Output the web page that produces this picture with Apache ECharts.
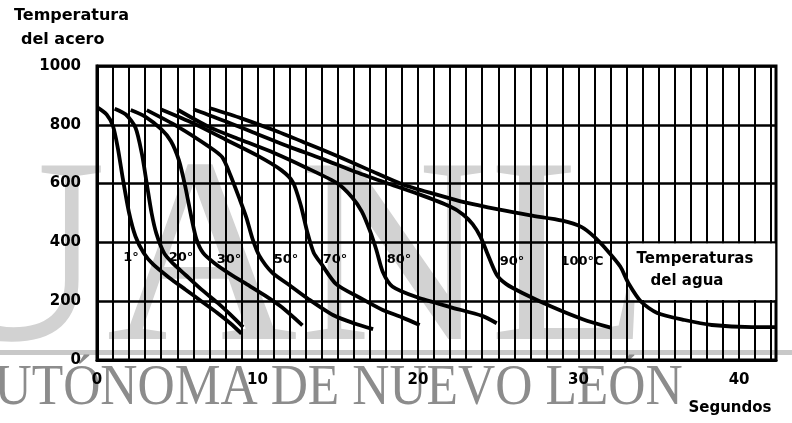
<!DOCTYPE html>
<html><head><meta charset="utf-8">
<script src="https://cdn.jsdelivr.net/npm/echarts@6/dist/echarts.min.js"></script>
<style>html,body{margin:0;padding:0;background:#fff}#c{width:792px;height:423px}</style>
</head><body><div id="c"></div>
<script>
// Water temperature labels (series names)
const waterTemps = ['1°', '20°', '30°', '50°', '70°', '80°', '90°', '100°C'];
// Cooling curves: time (s) and steel temperature
const c1_t   = [0,0.6,1,1.3,1.6,2,2.4,2.9,3.5,4.5,5.5,6.5,7.5,8.3,9.0];
const c1_T   = [860,835,795,720,620,500,420,365,325,280,240,200,160,125,90];
const c20_t  = [1.1,1.8,2.4,2.8,3.1,3.4,3.7,4.2,4.8,5.5,6.5,7.5,8.3,9.1];
const c20_T  = [855,835,790,700,600,500,430,362,325,290,240,195,155,112];
const c30_t  = [2.1,3,4,4.6,5.1,5.5,5.9,6.2,6.6,7.3,8.3,9.5,10.5,11.5,12.8];
const c30_T  = [850,828,785,745,680,590,480,410,365,330,292,252,218,180,118];
const c50_t  = [3.1,5,7,7.8,8.3,8.9,9.3,9.7,10.1,10.9,12,13.1,14.7,16,17.2];
const c50_T  = [850,795,725,690,630,545,485,410,356,298,254,210,153,125,105];
const c70_t  = [4,6,8,10,11.5,12.2,12.7,13.1,13.5,14,14.9,16.4,17.8,19,20.1];
const c70_T  = [852,805,750,695,645,605,525,435,365,325,258,211,170,145,119];
const c80_t  = [5,7,9,11,13,15,15.9,16.5,17,17.4,17.8,18.4,19.9,22,24,24.9];
const c80_T  = [852,792,748,705,655,600,553,505,440,375,300,250,214,180,150,125];
const c90_t  = [6,8,10,12,14,16,18,20,22,22.8,23.4,23.9,24.3,24.9,25.5,26.5,28.3,30.3,32];
const c90_T  = [853,812,768,725,685,642,603,565,522,495,462,418,365,290,258,228,182,138,110];
const c100_t = [7,9,11,13,15,17,19,21,23,25,27,29,30.2,31,31.8,32.6,33.1,33.9,34.9,36.6,38.3,40.8,42.3];
const c100_T = [857,822,782,738,693,645,598,565,535,512,492,474,452,418,372,318,262,198,160,136,119,112,112];
// Axis ticks
const xTicks = [0,10,20,30,40];
const yTicks = [0,200,400,600,800,1000];

const curves = [[c1_t,c1_T],[c20_t,c20_T],[c30_t,c30_T],[c50_t,c50_T],[c70_t,c70_T],[c80_t,c80_T],[c90_t,c90_T],[c100_t,c100_T]];

const chart = echarts.init(document.getElementById('c'), null, {renderer:'canvas'});
const labelPos = [[131,258],[181,258],[229,260],[286,260],[335,260],[399,260],[512,262],[582,262]];

const series = curves.map((c, i) => ({
  name: waterTemps[i], type: 'line', data: c[0].map((t, k) => [t, c[1][k]]),
  showSymbol: false, smooth: 0.25, lineStyle: {color: '#000', width: 3.8},
  z: 3, silent: true
}));
// blank box behind the "Temperaturas del agua" note
series.push({
  type: 'line', data: [], silent: true, z: 2,
  markArea: {silent: true, itemStyle: {color: '#fff'}, data: [[{coord: [33.2, 204]}, {coord: [42.25, 396]}]]}
});

const center = {textAlign:'center', align:'center', textVerticalAlign:'middle', verticalAlign:'middle'};
const wm = [
  {type:'text', z:-10, x: -85, y: 402, style:{text:'UANL', font:'265px "Liberation Serif"', fill:'#d2d2d2', textVerticalAlign:'bottom', verticalAlign:'bottom'}},
  {type:'rect', z:-10, shape:{x:0, y:350, width:792, height:5}, style:{fill:'#c8c8c8'}},
  {type:'text', z:-10, x: 320, y: 389, scaleX: 0.92, style:Object.assign({text:'AUTÓNOMA DE NUEVO LEÓN', font:'56px "Liberation Serif"', fill:'#8c8c8c'}, center)},
];
const texts = [
  {type:'text', z: 20, x: 14, y: 16, style:{text:'Temperatura', font:'bold 16px "DejaVu Sans"', fill:'#000', textVerticalAlign:'middle', verticalAlign:'middle'}},
  {type:'text', z: 20, x: 21, y: 40, style:{text:'del acero', font:'bold 16px "DejaVu Sans"', fill:'#000', textVerticalAlign:'middle', verticalAlign:'middle'}},
  {type:'text', z: 20, x: 730, y: 408, style:Object.assign({text:'Segundos', font:'bold 15px "DejaVu Sans"', fill:'#000'}, center)},
  {type:'text', z: 20, x: 695, y: 259, style:Object.assign({text:'Temperaturas', font:'bold 15px "DejaVu Sans"', fill:'#000'}, center)},
  {type:'text', z: 20, x: 687, y: 281, style:Object.assign({text:'del agua', font:'bold 15px "DejaVu Sans"', fill:'#000'}, center)},
].concat(waterTemps.map((w, i) => ({type:'text', z: 20, x: labelPos[i][0], y: labelPos[i][1],
  style:Object.assign({text: w, font:'bold 13px "DejaVu Sans"', fill:'#000'}, center)})));

chart.setOption({
  animation: false,
  backgroundColor: '#fff',
  grid: {left: 97, right: 16, top: 66, bottom: 63, show: true, borderColor: '#000', borderWidth: 3},
  xAxis: {
    type: 'value', min: 0, max: 42.3, interval: 1,
    axisLine: {show: true, lineStyle: {color: '#000', width: 3}},
    axisTick: {show: false},
    axisLabel: {showMaxLabel: false, margin: 13, color: '#000', fontFamily: 'DejaVu Sans', fontWeight: 'bold', fontSize: 15,
      formatter: v => xTicks.includes(v) ? String(v) : ''},
    splitLine: {show: true, lineStyle: {color: '#000', width: 2}}
  },
  yAxis: {
    type: 'value', min: 0, max: 1000, interval: 200,
    axisLine: {show: true, lineStyle: {color: '#000', width: 3}},
    axisTick: {show: false},
    axisLabel: {margin: 16, color: '#000', fontFamily: 'DejaVu Sans', fontWeight: 'bold', fontSize: 15,
      formatter: v => yTicks.includes(v) ? String(v) : ''},
    splitLine: {show: true, lineStyle: {color: '#000', width: 2.5}}
  },
  graphic: {elements: wm.concat(texts)},
  series: series
});
</script></body></html>
